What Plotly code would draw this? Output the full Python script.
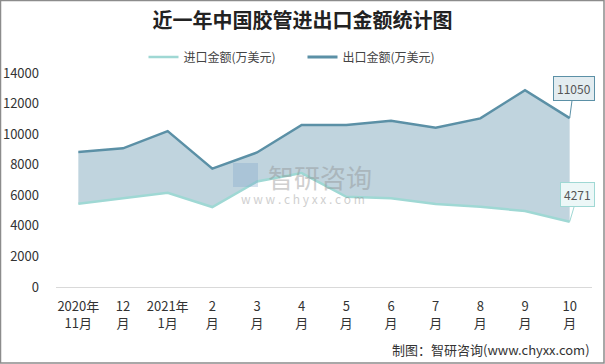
import plotly.graph_objects as go

categories = ["2020年<br>11月", "12<br>月", "2021年<br>1月", "2<br>月", "3<br>月", "4<br>月",
              "5<br>月", "6<br>月", "7<br>月", "8<br>月", "9<br>月", "10<br>月"]
import_values = [5450, 5800, 6170, 5230, 6900, 7450, 5900, 5800, 5430, 5250, 4970, 4271]
export_values = [8830, 9070, 10200, 7740, 8800, 10600, 10600, 10880, 10420, 11030, 12880, 11050]
y_ticks = [0, 2000, 4000, 6000, 8000, 10000, 12000, 14000]

FONT = "Noto Sans CJK SC, Microsoft YaHei, sans-serif"
C_IMP = "#9fd8d4"
C_EXP = "#5b90a6"

PL, PR, PT, PB = 56, 592, 73, 287  # plot area in pixels
PW, PH = PR - PL, PB - PT


def px(x):
    return (x - PL) / PW


def py(y):
    return (PB - y) / PH


fig = go.Figure()
fig.add_trace(go.Scatter(x=categories, y=import_values, name="进口金额(万美元)", mode="lines",
                         line=dict(color=C_IMP, width=2.5)))
fig.add_trace(go.Scatter(x=categories, y=export_values, name="出口金额(万美元)", mode="lines",
                         line=dict(color=C_EXP, width=2.5), fill="tonexty",
                         fillcolor="rgb(192,212,222)", showlegend=False))
# legend-only line entry for the export series
fig.add_trace(go.Scatter(x=[None], y=[None], name="出口金额(万美元)", mode="lines",
                         line=dict(color=C_EXP, width=3)))

# callout labels on last points
fig.add_annotation(x=categories[-1], y=export_values[-1], text=str(export_values[-1]),
                   showarrow=True, arrowhead=0, arrowcolor=C_EXP, arrowwidth=1, ax=4, ay=-30,
                   bgcolor="#e3ecf0", bordercolor=C_EXP, borderwidth=1, borderpad=3,
                   font=dict(size=12, color="#555", family=FONT))
fig.add_annotation(x=categories[-1], y=import_values[-1], text=str(import_values[-1]),
                   showarrow=True, arrowhead=0, arrowcolor=C_IMP, arrowwidth=1, ax=8, ay=-27,
                   bgcolor="#ecf7f7", bordercolor=C_IMP, borderwidth=1, borderpad=3,
                   font=dict(size=12, color="#555", family=FONT))

# watermark
fig.add_annotation(xref="paper", yref="paper", x=px(320), y=py(176),
                   text="智研咨询", showarrow=False, opacity=0.4,
                   font=dict(size=26, color="#8a8a8a", family=FONT))
fig.add_annotation(xref="paper", yref="paper", x=px(303), y=py(198),
                   text="w w w . c h y x x . c o m", showarrow=False, opacity=0.4,
                   font=dict(size=12, color="#8a8a8a", family=FONT))
fig.add_shape(type="rect", xref="paper", yref="paper",
              x0=px(233), x1=px(258), y0=py(187), y1=py(163),
              fillcolor="rgba(120,160,200,0.3)", line=dict(width=0))

# footer
fig.add_annotation(xref="paper", yref="paper", x=px(592), y=py(349),
                   xanchor="right", yanchor="middle", text="制图：智研咨询(www.chyxx.com)",
                   showarrow=False, font=dict(size=13, color="#333", family=FONT))

# outer frame
fig.add_shape(type="rect", xref="paper", yref="paper",
              x0=px(0.5), x1=px(604), y0=py(363), y1=py(0.5),
              line=dict(color="#8c8c8c", width=1.5), fillcolor="rgba(0,0,0,0)")

fig.update_layout(
    width=605, height=364,
    margin=dict(l=PL, r=605 - PR, t=PT, b=364 - PB, autoexpand=False),
    paper_bgcolor="white", plot_bgcolor="white",
    font=dict(family=FONT, color="#333", size=13),
    title=dict(text="<b>近一年中国胶管进出口金额统计图</b>", x=0.5, xref="container",
               y=1 - 21 / 364, yref="container", yanchor="middle",
               font=dict(size=20, color="#222", family=FONT)),
    legend=dict(orientation="h", xref="container", yref="container", x=0.5, xanchor="center",
                y=1 - 57 / 364, yanchor="middle", font=dict(size=12, color="#444"),
                itemwidth=30, traceorder="normal", entrywidth=114),
    showlegend=True,
    xaxis=dict(range=[-0.5, len(categories) - 0.5], showgrid=False, showline=True,
               linecolor="#d9d9d9", linewidth=1, ticks="", ticklabelstandoff=7,
               tickfont=dict(size=13, color="#333"), fixedrange=True),
    yaxis=dict(range=[0, 14000], tickvals=y_ticks, tickformat="d", showgrid=False,
               zeroline=False, showline=False, ticks="", tickfont=dict(size=13, color="#333"),
               ticklabelstandoff=16, fixedrange=True),
)

fig.write_html("out.html", config={"displayModeBar": False},
               post_script="document.body.style.margin='0';document.body.style.overflow='hidden';")
